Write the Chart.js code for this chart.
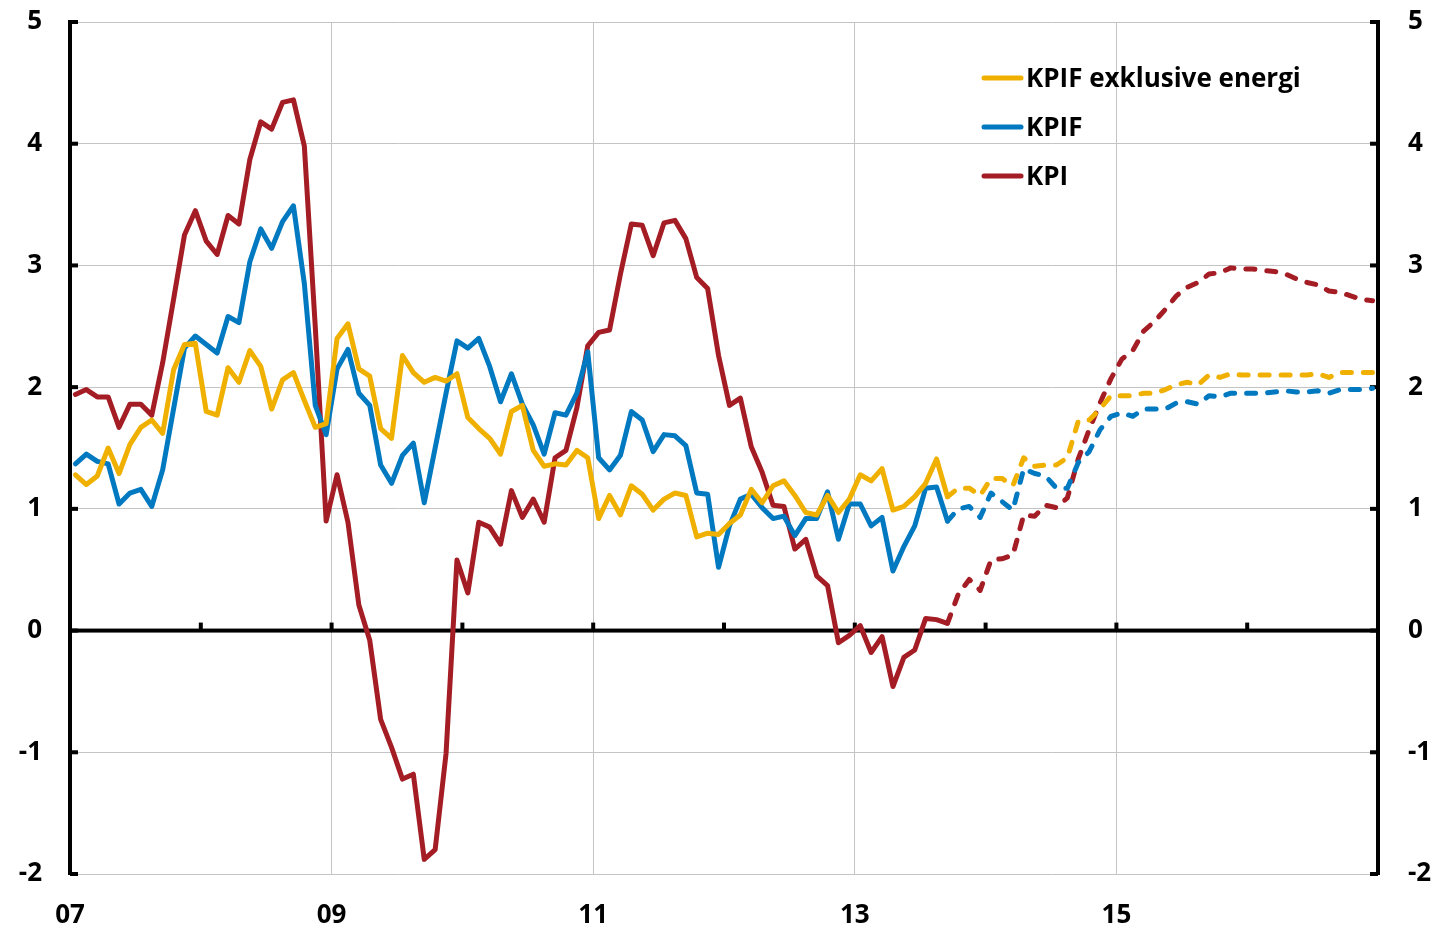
<!DOCTYPE html>
<html>
<head>
<meta charset="utf-8">
<title>KPI, KPIF och KPIF exklusive energi</title>
<script src="https://cdn.jsdelivr.net/npm/chart.js@4.4.1/dist/chart.umd.min.js"></script>
<style>
    html, body { margin: 0; padding: 0; background: #fff; }
    #wrap { width: 1444px; height: 929px; position: relative; }
</style>
</head>
<body>
<div id="wrap"><canvas id="chart"></canvas></div>
<script>
/* -----------------------------------------
   Data: månadsvärden jan 2007 - dec 2016
----------------------------------------- */
const startYear = 2007;
const lastOutcome = 80; // sep 2013, prognos (streckad) efter detta

const seriesNames = ["KPIF exklusive energi", "KPIF", "KPI"];
const seriesColors = ["#f0b000", "#0079c1", "#a51d24"];

const kpifExEnergi = [
    1.28, 1.20, 1.27, 1.50, 1.29, 1.53, 1.67, 1.73, 1.62, 2.14, 2.35, 2.36,
    1.80, 1.77, 2.16, 2.04, 2.30, 2.17, 1.82, 2.06, 2.12, 1.89, 1.67, 1.70,
    2.40, 2.52, 2.15, 2.09, 1.66, 1.58, 2.26, 2.12, 2.04, 2.08, 2.05, 2.11,
    1.75, 1.66, 1.58, 1.45, 1.80, 1.85, 1.48, 1.35, 1.37, 1.36, 1.48, 1.42,
    0.92, 1.11, 0.95, 1.19, 1.12, 0.99, 1.08, 1.13, 1.11, 0.77, 0.80, 0.79,
    0.88, 0.95, 1.16, 1.05, 1.19, 1.23, 1.11, 0.97, 0.95, 1.11, 0.97, 1.08,
    1.28, 1.23, 1.33, 0.99, 1.02, 1.10, 1.21, 1.41, 1.10, 1.17, 1.17, 1.11,
    1.25, 1.25, 1.19, 1.42, 1.35, 1.36, 1.36, 1.42, 1.72, 1.73, 1.82, 1.93,
    1.93, 1.93, 1.95, 1.95, 1.98, 2.02, 2.04, 2.02, 2.10, 2.08, 2.11, 2.10,
    2.10, 2.10, 2.10, 2.10, 2.10, 2.10, 2.11, 2.08, 2.12, 2.12, 2.12, 2.12
];

const kpif = [
    1.37, 1.45, 1.39, 1.37, 1.04, 1.13, 1.16, 1.02, 1.32, 1.82, 2.32, 2.42,
    2.35, 2.28, 2.58, 2.53, 3.03, 3.30, 3.14, 3.36, 3.49, 2.85, 1.85, 1.61,
    2.15, 2.31, 1.95, 1.85, 1.36, 1.21, 1.44, 1.54, 1.05, 1.50, 1.95, 2.38,
    2.32, 2.40, 2.17, 1.88, 2.11, 1.86, 1.69, 1.45, 1.79, 1.77, 1.95, 2.29,
    1.42, 1.32, 1.44, 1.80, 1.73, 1.47, 1.61, 1.60, 1.52, 1.13, 1.12, 0.52,
    0.86, 1.08, 1.12, 1.01, 0.92, 0.94, 0.78, 0.92, 0.92, 1.14, 0.75, 1.04,
    1.04, 0.86, 0.93, 0.49, 0.69, 0.86, 1.17, 1.18, 0.90, 1.00, 1.02, 0.93,
    1.13, 1.06, 0.99, 1.33, 1.29, 1.27, 1.17, 1.17, 1.38, 1.47, 1.65, 1.76,
    1.79, 1.76, 1.82, 1.82, 1.82, 1.87, 1.88, 1.86, 1.93, 1.92, 1.95, 1.95,
    1.95, 1.95, 1.96, 1.97, 1.96, 1.96, 1.97, 1.95, 1.98, 1.98, 1.98, 1.99
];

const kpi = [
    1.94, 1.98, 1.92, 1.92, 1.67, 1.86, 1.86, 1.77, 2.20, 2.72, 3.25, 3.45,
    3.20, 3.09, 3.41, 3.34, 3.87, 4.18, 4.12, 4.34, 4.36, 3.98, 2.50, 0.90,
    1.28, 0.89, 0.21, -0.08, -0.73, -0.96, -1.22, -1.18, -1.88, -1.80, -1.01, 0.58,
    0.31, 0.89, 0.85, 0.71, 1.15, 0.93, 1.08, 0.89, 1.42, 1.48, 1.83, 2.34,
    2.45, 2.47, 2.93, 3.34, 3.33, 3.08, 3.35, 3.37, 3.22, 2.90, 2.81, 2.26,
    1.85, 1.91, 1.51, 1.30, 1.03, 1.02, 0.67, 0.75, 0.45, 0.37, -0.10, -0.04,
    0.04, -0.18, -0.05, -0.46, -0.22, -0.16, 0.10, 0.09, 0.06, 0.30, 0.42, 0.33,
    0.58, 0.59, 0.62, 0.95, 0.94, 1.03, 1.01, 1.09, 1.41, 1.65, 1.87, 2.07,
    2.23, 2.30, 2.46, 2.54, 2.64, 2.75, 2.82, 2.86, 2.93, 2.94, 2.98, 2.97,
    2.97, 2.96, 2.95, 2.93, 2.89, 2.86, 2.84, 2.79, 2.78, 2.75, 2.72, 2.71
];

const yearTicks = [2007, 2008, 2009, 2010, 2011, 2012, 2013, 2014, 2015, 2016, 2017];
const yearLabels = ["07", "", "09", "", "11", "", "13", "", "15", "", ""];

/* -----------------------------------------
   Hjälpfunktioner
----------------------------------------- */
const FONT = "'Open Sans', 'Noto Sans', sans-serif";
const GRID = "#c4c4c4";

function toPoints(values) {
    // punkt mitt i månaden
    return values.map((v, i) => ({ x: startYear + (i + 0.5) / 12, y: v }));
}

const dashForecast = ctx => ctx.p0DataIndex >= lastOutcome ? [9, 12] : undefined;

function makeDataset(name, values, color) {
    return {
        label: name,
        data: toPoints(values),
        borderColor: color,
        backgroundColor: color,
        borderWidth: 5,
        borderCapStyle: "round",
        borderJoinStyle: "round",
        pointRadius: 0,
        tension: 0,
        segment: { borderDash: dashForecast }
    };
}

// fast bredd på y-axlarna, utan extra luft ovan/under
function fitYAxis(width) {
    return s => {
        s.width = width;
        s.paddingTop = 0;
        s.paddingBottom = 0;
    };
}

/* -----------------------------------------
   Axlar, nollinje och streck
----------------------------------------- */
const axisDecor = {
    id: "axisDecor",
    beforeDatasetsDraw(chart) {
        const { ctx, chartArea: a, scales: { x, y } } = chart;
        const y0 = y.getPixelForValue(0);
        ctx.save();
        ctx.fillStyle = "#000";
        ctx.fillRect(a.left, y0 - 2, a.right - a.left, 4);

        yearTicks.slice(1, -1).forEach(yr => {
            const px = x.getPixelForValue(yr);
            ctx.fillRect(px - 2, y0 - 8, 4, 8);
        });

        for (let v = -2; v <= 5; v++) {
            const py = y.getPixelForValue(v);
            ctx.fillRect(a.left, py - 2, 8, 4);
            ctx.fillRect(a.right - 8, py - 2, 8, 4);
        }
        ctx.restore();
    }
};

/* -----------------------------------------
   Teckenförklaring
----------------------------------------- */
const legendBox = {
    id: "legendBox",
    afterDatasetsDraw(chart) {
        const ctx = chart.ctx;
        ctx.save();
        ctx.font = "bold 26px " + FONT;
        ctx.textBaseline = "alphabetic";
        ctx.fillStyle = "#000";
        seriesNames.forEach((name, k) => {
            const ly = 78 + k * 49;
            ctx.strokeStyle = seriesColors[k];
            ctx.lineWidth = 5;
            ctx.lineCap = "round";
            ctx.beginPath();
            ctx.moveTo(984, ly);
            ctx.lineTo(1021, ly);
            ctx.stroke();
            ctx.fillText(name, 1026, ly + 8.5);
        });
        ctx.restore();
    }
};

/* -----------------------------------------
   Diagram
----------------------------------------- */
const tickFont = { family: FONT, size: 26, weight: "bold" };

new Chart(document.getElementById("chart"), {
    type: "line",
    data: {
        datasets: [
            makeDataset(seriesNames[0], kpifExEnergi, seriesColors[0]),
            makeDataset(seriesNames[1], kpif, seriesColors[1]),
            makeDataset(seriesNames[2], kpi, seriesColors[2])
        ]
    },
    options: {
        responsive: true,
        maintainAspectRatio: false,
        animation: false,
        layout: { padding: { top: 22, left: 0, right: 0, bottom: 0 } },
        plugins: {
            legend: { display: false },
            tooltip: { enabled: false }
        },
        scales: {
            x: {
                type: "linear",
                min: 2007,
                max: 2017,
                afterBuildTicks: s => { s.ticks = yearTicks.map(v => ({ value: v })); },
                afterFit: s => { s.height = 55; },
                ticks: {
                    autoSkip: false,
                    maxRotation: 0,
                    padding: 26,
                    color: "#000",
                    font: tickFont,
                    callback: (v, i) => yearLabels[i]
                },
                grid: {
                    drawTicks: false,
                    lineWidth: 1,
                    color: c => (c.index > 0 && yearLabels[c.index]) ? GRID : "rgba(0,0,0,0)"
                },
                border: { display: false }
            },
            y: {
                position: "left",
                min: -2,
                max: 5,
                afterFit: fitYAxis(70),
                ticks: { stepSize: 1, padding: 28, color: "#000", font: tickFont },
                grid: { drawTicks: false, color: GRID, lineWidth: 1 },
                border: { display: true, color: "#000", width: 4 }
            },
            y2: {
                position: "right",
                min: -2,
                max: 5,
                afterFit: fitYAxis(66),
                ticks: { stepSize: 1, padding: 30, color: "#000", font: tickFont },
                grid: { drawTicks: false, drawOnChartArea: false },
                border: { display: true, color: "#000", width: 4 }
            }
        }
    },
    plugins: [axisDecor, legendBox]
});
</script>
</body>
</html>
